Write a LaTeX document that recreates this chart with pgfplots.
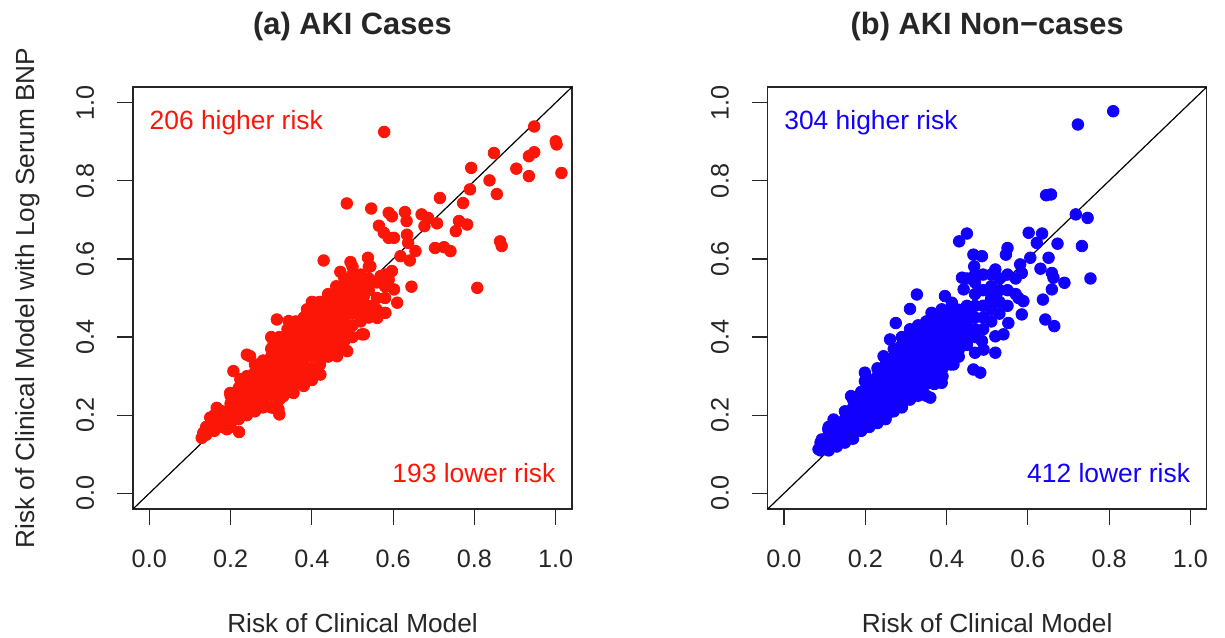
\documentclass[border=0pt]{standalone}
\usepackage{fontspec}
\setmainfont{Liberation Sans}
\usepackage{pgfplots}
\pgfplotsset{compat=1.18}

\definecolor{Rred}{RGB}{252,22,8}
\definecolor{Rblue}{RGB}{18,0,255}

\pgfplotsset{
  riskpanel/.style={
    scale only axis,
    width=219.5pt, height=211pt,
    anchor=south west,
    xmin=-0.04, xmax=1.04, ymin=-0.04, ymax=1.04,
    xtick={0,0.2,0.4,0.6,0.8,1.0},
    ytick={0,0.2,0.4,0.6,0.8,1.0},
    xtick pos=bottom, ytick pos=left,
    tick align=outside,
    major tick length=8pt,
    axis line style={black!85, line width=0.6pt},
    tick style={black!85, line width=0.6pt},
    /pgf/number format/.cd, fixed, fixed zerofill, precision=1, assume math mode=true,
    /pgfplots/.cd,
    ticklabel style={font=\fontsize{12.6}{15}\selectfont, text=black!85, inner sep=0pt},
    xticklabel style={anchor=base, yshift=-21pt},
    yticklabel style={rotate=90, anchor=base, yshift=11.5pt},
    title style={at={(axis description cs:0.5,1.097)}, anchor=base,
      font=\fontsize{15.4}{18}\selectfont\bfseries, text=black!85},
    xlabel style={at={(axis description cs:0.5,-0.2915)}, anchor=base,
      font=\fontsize{13.1}{16}\selectfont, text=black!85},
    ylabel style={at={(axis description cs:-0.2241,0.5)}, anchor=base,
      font=\fontsize{13.1}{16}\selectfont, text=black!85},
    clip=true,
  },
  pts/.style={only marks, mark=*, mark size=2.9pt, draw=#1, fill=#1},
}

\begin{document}
\begin{tikzpicture}
\useasboundingbox (0,0) rectangle (612.5pt,-318.5pt);

% ---- (a) AKI cases
\begin{axis}[riskpanel, at={(66.5pt,-254.5pt)},
  title={(a) AKI Cases},
  xlabel={Risk of Clinical Model},
  ylabel={Risk of Clinical Model with Log Serum BNP}]
\addplot[pts=Rred] coordinates {
(0.578,0.925)(0.947,0.939)(1.000,0.901)(1.002,0.893)(0.947,0.873)(0.934,0.863)
(0.848,0.871)(1.014,0.820)(0.903,0.831)(0.934,0.812)(0.792,0.833)(0.837,0.801)
(0.855,0.766)(0.789,0.778)(0.715,0.756)(0.772,0.743)(0.486,0.742)(0.546,0.729)
(0.589,0.718)(0.597,0.709)(0.629,0.720)(0.633,0.697)(0.670,0.714)(0.686,0.705)
(0.677,0.684)(0.708,0.691)(0.762,0.697)(0.782,0.688)(0.754,0.671)(0.565,0.685)
(0.577,0.667)(0.589,0.654)(0.602,0.654)(0.634,0.662)(0.637,0.641)(0.863,0.645)
(0.867,0.633)(0.703,0.628)(0.725,0.630)(0.741,0.620)(0.655,0.620)(0.641,0.596)
(0.618,0.607)(0.807,0.526)(0.645,0.529)(0.429,0.596)(0.495,0.592)(0.538,0.603)
(0.470,0.567)(0.597,0.569)(0.589,0.547)(0.602,0.522)(0.610,0.488)(0.581,0.462)
(0.561,0.449)(0.528,0.407)(0.519,0.462)(0.487,0.364)(0.462,0.351)(0.421,0.304)
(0.380,0.275)(0.355,0.257)(0.318,0.215)(0.320,0.202)(0.306,0.219)(0.221,0.157)
(0.191,0.164)(0.133,0.155)(0.129,0.142)(0.150,0.164)(0.166,0.219)(0.150,0.194)
(0.207,0.313)(0.240,0.355)(0.248,0.351)(0.314,0.445)(0.343,0.441)(0.306,0.385)
(0.408,0.488)(0.388,0.471)(0.462,0.522)(0.450,0.505)(0.487,0.547)(0.519,0.556)
(0.544,0.581)(0.569,0.556)(0.528,0.505)(0.544,0.475)(0.523,0.407)(0.478,0.368)
(0.404,0.317)(0.371,0.287)(0.330,0.249)(0.281,0.223)(0.256,0.215)(0.224,0.232)
(0.199,0.257)(0.224,0.292)(0.199,0.206)(0.174,0.181)
(0.14,0.15)(0.14,0.17)
(0.16,0.16)(0.16,0.18)(0.16,0.20)
(0.18,0.17)(0.18,0.19)(0.18,0.21)
(0.20,0.17)(0.20,0.19)(0.20,0.21)(0.20,0.23)(0.20,0.25)
(0.22,0.19)(0.22,0.21)(0.22,0.23)(0.22,0.25)(0.22,0.27)
(0.24,0.20)(0.24,0.22)(0.24,0.24)(0.24,0.26)(0.24,0.28)(0.24,0.30)
(0.26,0.21)(0.26,0.23)(0.26,0.25)(0.26,0.27)(0.26,0.29)(0.26,0.31)(0.26,0.33)
(0.28,0.22)(0.28,0.24)(0.28,0.26)(0.28,0.28)(0.28,0.30)(0.28,0.32)(0.28,0.34)
(0.30,0.22)(0.30,0.25)(0.30,0.27)(0.30,0.29)(0.30,0.31)(0.30,0.33)(0.30,0.35)(0.30,0.37)(0.30,0.40)
(0.32,0.24)(0.32,0.26)(0.32,0.28)(0.32,0.30)(0.32,0.32)(0.32,0.34)(0.32,0.36)(0.32,0.38)(0.32,0.40)
(0.34,0.26)(0.34,0.28)(0.34,0.30)(0.34,0.32)(0.34,0.34)(0.34,0.36)(0.34,0.38)(0.34,0.40)(0.34,0.42)
(0.36,0.28)(0.36,0.30)(0.36,0.32)(0.36,0.34)(0.36,0.36)(0.36,0.38)(0.36,0.40)(0.36,0.42)(0.36,0.44)
(0.38,0.29)(0.38,0.31)(0.38,0.33)(0.38,0.35)(0.38,0.37)(0.38,0.39)(0.38,0.41)(0.38,0.43)(0.38,0.45)
(0.40,0.29)(0.40,0.32)(0.40,0.35)(0.40,0.37)(0.40,0.39)(0.40,0.41)(0.40,0.43)(0.40,0.45)(0.40,0.47)(0.40,0.49)
(0.42,0.33)(0.42,0.35)(0.42,0.37)(0.42,0.39)(0.42,0.41)(0.42,0.43)(0.42,0.45)(0.42,0.47)(0.42,0.49)
(0.44,0.35)(0.44,0.37)(0.44,0.39)(0.44,0.41)(0.44,0.43)(0.44,0.45)(0.44,0.47)(0.44,0.49)(0.44,0.51)
(0.46,0.37)(0.46,0.39)(0.46,0.41)(0.46,0.43)(0.46,0.45)(0.46,0.47)(0.46,0.49)(0.46,0.51)(0.46,0.53)
(0.48,0.39)(0.48,0.41)(0.48,0.43)(0.48,0.45)(0.48,0.47)(0.48,0.49)(0.48,0.51)(0.48,0.53)(0.48,0.55)
(0.50,0.40)(0.50,0.43)(0.50,0.46)(0.50,0.48)(0.50,0.50)(0.50,0.52)(0.50,0.54)(0.50,0.56)(0.50,0.58)
(0.52,0.44)(0.52,0.47)(0.52,0.50)(0.52,0.53)(0.52,0.56)
(0.54,0.45)(0.54,0.48)(0.54,0.52)(0.54,0.55)(0.54,0.58)
(0.56,0.47)(0.56,0.50)(0.56,0.54)
(0.58,0.50)(0.58,0.53)(0.58,0.56)
};
\addplot[black, line width=0.6pt] coordinates {(-0.04,-0.04) (1.04,1.04)};
\node[anchor=base west, text=Rred, font=\fontsize{13.2}{16}\selectfont, inner sep=0pt]
  at (axis cs:0,0.931) {206 higher risk};
\node[anchor=base east, text=Rred, font=\fontsize{13.2}{16}\selectfont, inner sep=0pt]
  at (axis cs:1,0.028) {193 lower risk};
\end{axis}

% ---- (b) AKI non-cases
\begin{axis}[riskpanel, at={(383.85pt,-254.5pt)},
  title={(b) AKI Non−cases},
  xlabel={Risk of Clinical Model}]
\addplot[pts=Rblue] coordinates {
(0.810,0.978)(0.723,0.944)(0.645,0.763)(0.657,0.765)(0.718,0.714)(0.747,0.705)
(0.602,0.667)(0.635,0.665)(0.622,0.641)(0.673,0.639)(0.733,0.633)(0.754,0.550)
(0.651,0.603)(0.659,0.564)(0.663,0.552)(0.690,0.539)(0.659,0.522)(0.637,0.496)
(0.643,0.445)(0.665,0.428)(0.606,0.603)(0.631,0.575)(0.581,0.586)(0.585,0.564)
(0.577,0.500)(0.589,0.492)(0.585,0.458)(0.552,0.436)(0.540,0.407)(0.520,0.402)
(0.520,0.360)(0.491,0.368)(0.470,0.360)(0.466,0.317)(0.483,0.309)(0.450,0.665)
(0.431,0.645)(0.466,0.611)(0.487,0.607)(0.550,0.628)(0.546,0.611)(0.468,0.581)
(0.520,0.573)(0.438,0.552)(0.442,0.522)(0.327,0.509)(0.396,0.505)(0.310,0.472)
(0.275,0.436)(0.261,0.394)(0.245,0.351)(0.199,0.309)(0.199,0.287)(0.165,0.249)
(0.122,0.189)(0.109,0.164)(0.093,0.138)(0.085,0.113)(0.105,0.113)(0.130,0.125)
(0.183,0.164)(0.208,0.172)(0.257,0.206)(0.290,0.223)(0.360,0.245)(0.388,0.283)
(0.417,0.330)(0.429,0.364)(0.487,0.390)(0.388,0.471)(0.363,0.462)(0.413,0.488)
(0.380,0.432)
(0.09,0.11)(0.09,0.13)
(0.11,0.11)(0.11,0.13)(0.11,0.15)(0.11,0.17)
(0.13,0.12)(0.13,0.14)(0.13,0.16)(0.13,0.18)
(0.15,0.13)(0.15,0.15)(0.15,0.17)(0.15,0.19)(0.15,0.21)
(0.17,0.14)(0.17,0.16)(0.17,0.18)(0.17,0.20)(0.17,0.22)(0.17,0.24)
(0.19,0.16)(0.19,0.18)(0.19,0.20)(0.19,0.22)(0.19,0.24)(0.19,0.26)
(0.21,0.17)(0.21,0.19)(0.21,0.21)(0.21,0.23)(0.21,0.25)(0.21,0.27)(0.21,0.29)
(0.23,0.18)(0.23,0.20)(0.23,0.22)(0.23,0.24)(0.23,0.26)(0.23,0.28)(0.23,0.30)(0.23,0.32)
(0.25,0.19)(0.25,0.21)(0.25,0.23)(0.25,0.25)(0.25,0.27)(0.25,0.29)(0.25,0.31)(0.25,0.33)
(0.27,0.21)(0.27,0.23)(0.27,0.25)(0.27,0.27)(0.27,0.29)(0.27,0.31)(0.27,0.33)(0.27,0.35)(0.27,0.37)
(0.29,0.22)(0.29,0.24)(0.29,0.26)(0.29,0.28)(0.29,0.30)(0.29,0.32)(0.29,0.34)(0.29,0.36)(0.29,0.38)(0.29,0.40)
(0.31,0.24)(0.31,0.26)(0.31,0.28)(0.31,0.30)(0.31,0.32)(0.31,0.34)(0.31,0.36)(0.31,0.38)(0.31,0.40)(0.31,0.42)
(0.33,0.25)(0.33,0.27)(0.33,0.29)(0.33,0.31)(0.33,0.33)(0.33,0.35)(0.33,0.37)(0.33,0.39)(0.33,0.41)(0.33,0.43)
(0.35,0.25)(0.35,0.28)(0.35,0.30)(0.35,0.32)(0.35,0.34)(0.35,0.36)(0.35,0.38)(0.35,0.40)(0.35,0.42)(0.35,0.44)
(0.37,0.28)(0.37,0.30)(0.37,0.32)(0.37,0.34)(0.37,0.36)(0.37,0.38)(0.37,0.40)(0.37,0.42)(0.37,0.44)
(0.39,0.30)(0.39,0.32)(0.39,0.34)(0.39,0.36)(0.39,0.38)(0.39,0.40)(0.39,0.42)(0.39,0.44)(0.39,0.46)
(0.41,0.33)(0.41,0.35)(0.41,0.37)(0.41,0.39)(0.41,0.41)(0.41,0.43)(0.41,0.45)(0.41,0.47)
(0.43,0.35)(0.43,0.37)(0.43,0.39)(0.43,0.41)(0.43,0.43)(0.43,0.45)(0.43,0.47)
(0.45,0.38)(0.45,0.40)(0.45,0.42)(0.45,0.44)(0.45,0.46)(0.45,0.48)(0.45,0.55)
(0.47,0.40)(0.47,0.42)(0.47,0.45)(0.47,0.48)(0.47,0.51)(0.47,0.54)(0.47,0.56)
(0.49,0.42)(0.49,0.45)(0.49,0.48)(0.49,0.52)(0.49,0.56)
(0.51,0.44)(0.51,0.47)(0.51,0.50)(0.51,0.53)(0.51,0.56)
(0.53,0.46)(0.53,0.49)(0.53,0.52)(0.53,0.55)
(0.55,0.48)(0.55,0.52)(0.55,0.56)
(0.57,0.51)(0.57,0.55)
};
\addplot[black, line width=0.6pt] coordinates {(-0.04,-0.04) (1.04,1.04)};
\node[anchor=base west, text=Rblue, font=\fontsize{13.2}{16}\selectfont, inner sep=0pt]
  at (axis cs:0,0.931) {304 higher risk};
\node[anchor=base east, text=Rblue, font=\fontsize{13.2}{16}\selectfont, inner sep=0pt]
  at (axis cs:1,0.028) {412 lower risk};
\end{axis}
\end{tikzpicture}
\end{document}
